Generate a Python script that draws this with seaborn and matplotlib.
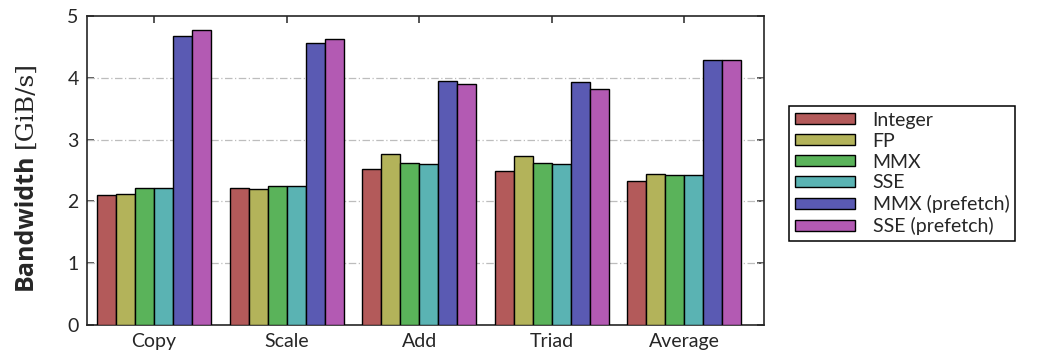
import numpy as np
import matplotlib
matplotlib.use("Agg")
import matplotlib.pyplot as plt
import pandas as pd
import seaborn as sns

benchmarks = ["Copy", "Scale", "Add", "Triad", "Average"]
variants = ["Integer", "FP", "MMX", "SSE", "MMX (prefetch)", "SSE (prefetch)"]

integer = [2.11, 2.21, 2.52, 2.50, 2.33]
fp = [2.12, 2.20, 2.77, 2.74, 2.45]
mmx = [2.21, 2.25, 2.62, 2.62, 2.43]
sse = [2.21, 2.25, 2.60, 2.61, 2.42]
mmx_pf = [4.68, 4.57, 3.95, 3.94, 4.28]
sse_pf = [4.78, 4.63, 3.90, 3.82, 4.28]

colors = ["#b35a5a", "#b3b35a", "#5ab35a", "#5ab3b3", "#5a5ab3", "#b35ab3"]

df = pd.DataFrame({"bench": benchmarks})
for name, vals in zip(variants, [integer, fp, mmx, sse, mmx_pf, sse_pf]):
    df[name] = vals
df_melt = df.melt(id_vars="bench", var_name="variant", value_name="bw")

sns.set_style("ticks")
plt.rcParams["font.family"] = ["Lato", "DejaVu Sans"]
plt.rcParams["font.size"] = 14

fig = plt.figure(figsize=(10.45, 3.59), dpi=100)
ax = fig.add_axes([87/1045, 1-325/359, (764-87)/1045, (325-16)/359])

sns.barplot(data=df_melt, x="bench", y="bw", hue="variant", order=benchmarks,
            hue_order=variants, palette=colors, saturation=1,
            edgecolor="black", linewidth=1,
            width=0.86, gap=0, ax=ax, zorder=3, legend=True)

ax.set_ylim(0, 5)
ax.set_xlim(-0.505, 4.6)
ax.set_yticks(np.arange(0, 6, 1))
for y in range(1, 5):
    ax.axhline(y, color="#bdbdbd", lw=0.9, ls=(0, (6, 2, 1, 2)), zorder=1)

ax.tick_params(direction="in", top=True, right=True, length=5, width=1.1,
               labelsize=14, pad=6)
for s in ax.spines.values():
    s.set_linewidth(1.2)
    s.set_visible(True)
ax.set_xlabel("")
ax.set_ylabel("")

fig.text(25/1045, 1-290/359, "Bandwidth", rotation=90, ha="center", va="bottom",
         fontsize=18, fontweight="bold", family=["Open Sans", "DejaVu Sans"])
fig.text(25/1045, 1-148/359, "[GiB/s]", rotation=90, ha="center", va="bottom",
         fontsize=18, family=["DejaVu Serif"])

handles, labels = ax.get_legend_handles_labels()
ax.legend_.remove()
leg = fig.legend(handles, labels, loc="upper left",
                 bbox_to_anchor=(789/1045, 1-106/359), frameon=True,
                 fancybox=False, edgecolor="black", framealpha=1,
                 fontsize=14, handlelength=3.1, handleheight=0.5,
                 handletextpad=0.9, labelspacing=0.2, borderpad=0.3,
                 borderaxespad=0)
leg.get_frame().set_linewidth(1.1)

fig.savefig("out.png", dpi=100)
